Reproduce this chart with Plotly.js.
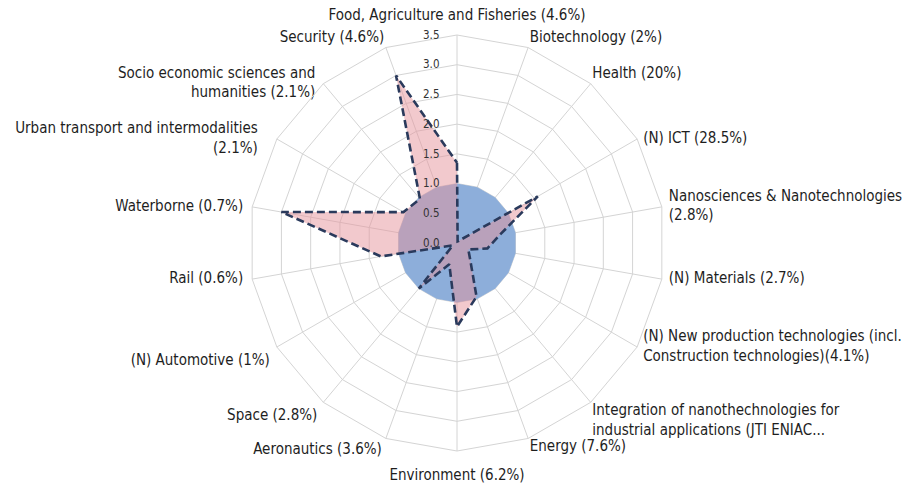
<!DOCTYPE html>
<html><head><meta charset="utf-8">
<script src="https://cdn.plot.ly/plotly-3.0.1.min.js"></script>
<style>html,body{margin:0;padding:0;background:#fff}#chart{width:922px;height:485px}</style>
</head><body><div id="chart"></div>
<script>
const categories = [
  "Food, Agriculture and Fisheries (4.6%)",
  "Biotechnology (2%)",
  "Health (20%)",
  "(N) ICT (28.5%)",
  "Nanosciences & Nanotechnologies<br>(2.8%)",
  "(N) Materials (2.7%)",
  "(N) New production technologies (incl.<br>Construction technologies)(4.1%)",
  "Integration of nanothechnologies for<br>industrial applications (JTI ENIAC...",
  "Energy (7.6%)",
  "Environment (6.2%)",
  "Aeronautics (3.6%)",
  "Space (2.8%)",
  "(N) Automotive (1%)",
  "Rail (0.6%)",
  "Waterborne (0.7%)",
  "Urban transport and intermodalities<br>(2.1%)",
  "Socio economic sciences and<br>humanities (2.1%)",
  "Security (4.6%)"
];
const baseline = [1,1,1,1,1,1,1,1,1,1,1,1,1,1,1,1,1,1];
const ratio = [1.35,0.03,0.05,1.57,0.72,0.52,0.22,0.34,0.96,1.41,0.38,1.0,0.08,1.3,3.0,1.04,0.97,3.0];
const radialTicks = [0,0.5,1,1.5,2,2.5,3,3.5];

// label placement styles (one per category)
const labelPos = ['top center','top right','top right','middle right','middle right','middle right',
  'middle right','bottom right','bottom right','bottom center','bottom left','bottom left',
  'bottom left','middle left','middle left','middle left','middle left','top left'];
const labelGap = [16,1,1,8,9.6,9.6,8,1,1,27,4.8,8,9.6,12.8,12.8,28.8,11.2,1];

const close = a => a.concat([a[0]]);
const theta = close(categories);
const FONT = '"DejaVu Sans Condensed", "DejaVu Sans", sans-serif';
const outer = radialTicks[radialTicks.length - 1];

const traces = [
  {type:'scatterpolar', r: close(baseline), theta: theta, mode:'lines', fill:'toself',
   fillcolor:'rgb(141,174,218)', line:{width:0, color:'rgba(0,0,0,0)'}, hoverinfo:'skip'},
  {type:'scatterpolar', r: close(ratio), theta: theta, mode:'lines', fill:'toself',
   fillcolor:'rgba(229,147,155,0.5)', line:{width:2.6, color:'#2a3a5c', dash:'8px,4px'}},
  {type:'scatterpolar', r: categories.map(() => outer), theta: categories, mode:'markers+text',
   text: categories, textposition: labelPos, cliponaxis:false,
   marker:{size: labelGap, opacity:0, color:'rgba(0,0,0,0)'},
   textfont:{family:FONT, size:15, color:'#1e1e1e'}, hoverinfo:'skip'}
];

const layout = {
  width:922, height:485, showlegend:false,
  margin:{l:0,r:0,t:0,b:0},
  paper_bgcolor:'#fff',
  font:{family:FONT, color:'#222'},
  polar:{
    domain:{x:[249/922, 665/922], y:[1-451/485, 1-35/485]},
    gridshape:'linear', bgcolor:'#fff',
    angularaxis:{rotation:90, direction:'clockwise', type:'category', categoryarray:categories,
      showticklabels:false,
      gridcolor:'#d4d4d4', linecolor:'#d4d4d4', showline:true, ticks:''},
    radialaxis:{range:[0,outer], tickvals:radialTicks, tickformat:'.1f', angle:90, tickangle:90,
      side:'counterclockwise', showline:false, gridcolor:'#d4d4d4',
      ticks:'outside', ticklen:13, tickcolor:'rgba(0,0,0,0)',
      tickfont:{family:FONT, size:11.5, color:'#333'}}
  }
};
Plotly.newPlot('chart', traces, layout, {displayModeBar:false, staticPlot:true});
</script></body></html>
